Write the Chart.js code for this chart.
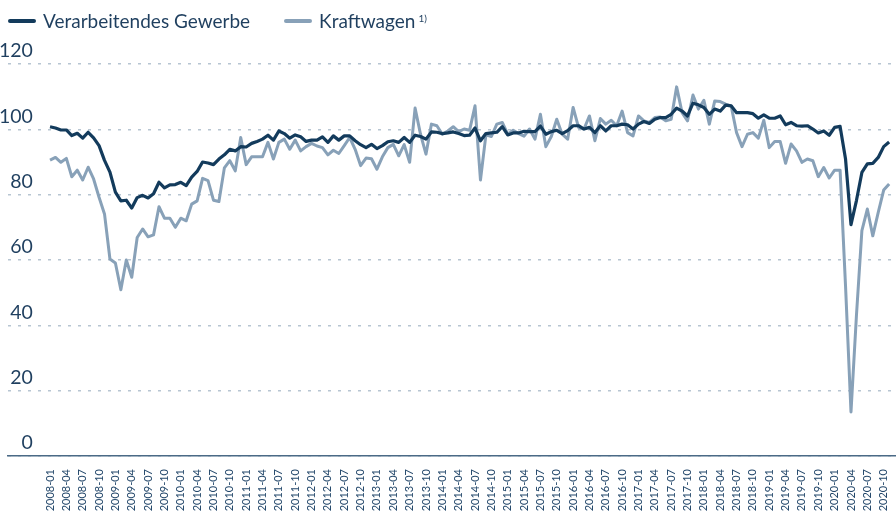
<!DOCTYPE html>
<html lang="de">
<head>
<meta charset="utf-8">
<script src="https://cdn.jsdelivr.net/npm/chart.js@4/dist/chart.umd.min.js"></script>
<style>
    html, body { margin: 0; padding: 0; background: #fff; }
    .wrap { position: relative; width: 896px; height: 512px; font-family: Lato, sans-serif; color: #1f3f5f; }
    canvas { position: absolute; left: 0; top: 0; }
    .legend { position: absolute; left: 8px; top: 8px; display: flex; font-size: 19px; line-height: 26px; }
    .legend-item { display: flex; align-items: center; margin-right: 34px; }
    .legend-line { display: inline-block; width: 28px; height: 4px; border-radius: 2px; margin-right: 7px; }
    .legend sup { font-size: 10px; position: relative; top: -3px; margin-left: 3px; }
</style>
</head>
<body>
<div class="wrap">
    <canvas id="chart" width="896" height="512"></canvas>
    <div class="legend">
        <span class="legend-item"><span class="legend-line" style="background:#133b5c"></span>Verarbeitendes Gewerbe</span>
        <span class="legend-item"><span class="legend-line" style="background:#88a1b8"></span>Kraftwagen<sup>1)</sup></span>
    </div>
</div>
<script>
// monthly, 2008-01 .. 2020-11
const firstYear = 2008;
const months = [];
for (let i = 0; i < 155; i++) {
    const y = firstYear + Math.floor(i / 12);
    const m = (i % 12) + 1;
    months.push(`${y}-${String(m).padStart(2, '0')}`);
}

const gewerbe = [
    100.8, 100.4, 99.8, 99.8, 98.1, 98.8, 97.3, 99.1, 97.4, 95.0,
    90.5, 86.9, 80.8, 78.1, 78.3, 75.9, 79.1, 79.8, 79.0, 80.3,
    83.8, 82.1, 83.0, 83.1, 83.8, 82.8, 85.4, 87.1, 90.0, 89.7,
    89.2, 90.9, 92.2, 93.9, 93.4, 94.7, 94.6, 95.7, 96.3, 97.0,
    98.2, 96.7, 99.5, 98.7, 97.3, 98.3, 97.7, 96.3, 96.7, 96.7,
    97.7, 96.0, 98.0, 96.7, 98.0, 98.0, 96.5, 95.3, 94.4, 95.4,
    94.1, 95.0, 96.2, 96.5, 96.0, 97.5, 96.0, 98.2, 97.8, 97.0,
    99.2, 99.1, 98.7, 98.9, 99.2, 98.7, 98.1, 98.2, 100.4, 96.5,
    98.7, 98.9, 99.1, 100.8, 98.3, 98.9, 98.9, 99.4, 99.3, 99.3,
    101.0, 98.5, 99.3, 99.7, 98.7, 99.6, 101.1, 101.1, 100.1, 100.6,
    99.0, 101.1, 99.5, 101.1, 101.1, 101.6, 101.4, 100.1, 101.6, 102.4,
    101.8, 103.1, 103.6, 103.6, 104.6, 106.5, 105.6, 104.1, 108.0, 107.5,
    106.7, 104.6, 106.2, 105.6, 107.4, 107.2, 105.1, 105.1, 105.1, 104.8,
    103.4, 104.4, 103.4, 103.4, 104.1, 101.4, 102.1, 101.1, 101.0, 101.1,
    100.1, 98.9, 99.5, 98.2, 100.6, 100.9, 90.9, 70.8, 78.2, 86.8,
    89.4, 89.6, 91.4, 94.7, 96.1
];

const kraftwagen = [
    90.6, 91.4, 89.9, 91.1, 85.5, 87.5, 84.5, 88.4, 84.8, 79.2,
    74.1, 60.3, 59.1, 50.9, 60.0, 54.7, 66.9, 69.5, 67.1, 67.7,
    76.3, 72.8, 72.8, 70.0, 72.8, 72.0, 77.1, 78.1, 85.0, 84.3,
    78.3, 77.9, 88.2, 90.4, 87.3, 97.5, 89.2, 91.6, 91.6, 91.6,
    96.0, 90.9, 96.0, 97.0, 93.9, 96.7, 93.4, 94.7, 95.7, 94.9,
    94.4, 92.2, 93.6, 92.6, 95.0, 97.5, 93.9, 88.9, 91.2, 91.0,
    87.8, 91.6, 94.4, 95.4, 91.9, 95.3, 89.9, 106.5, 98.5, 92.4,
    101.6, 101.1, 98.5, 99.5, 100.8, 99.3, 100.1, 99.7, 107.2, 84.5,
    98.3, 97.8, 101.6, 102.1, 98.5, 99.7, 98.7, 97.9, 100.1, 97.0,
    104.6, 94.7, 97.8, 103.1, 98.5, 97.0, 106.7, 100.6, 100.1, 104.1,
    96.5, 103.3, 101.6, 102.8, 101.1, 105.6, 99.0, 98.0, 104.1, 102.6,
    102.1, 103.6, 103.8, 102.6, 103.1, 113.0, 105.1, 102.6, 110.5, 106.2,
    108.9, 101.6, 108.7, 108.5, 107.7, 107.2, 99.0, 94.7, 98.5, 99.0,
    97.3, 102.8, 94.4, 96.3, 96.3, 89.6, 95.5, 93.4, 89.9, 90.9,
    90.4, 85.5, 88.3, 85.1, 87.5, 87.5, 52.0, 13.5, 43.0, 69.0,
    75.6, 67.4, 74.6, 81.4, 83.3
];

const yTicks = [0, 20, 40, 60, 80, 100, 120];
// every third month gets a label
const xTickIdx = months.map((m, i) => i).filter(i => i % 3 === 0 && i <= 153);

const textColor = '#1f3f5f';
const toPoints = arr => arr.map((v, i) => ({x: i, y: v}));

new Chart(document.getElementById('chart'), {
    type: 'line',
    data: {
        datasets: [
            {
                label: 'Verarbeitendes Gewerbe',
                data: toPoints(gewerbe),
                borderColor: '#133b5c',
                borderWidth: 3.2,
                borderJoinStyle: 'round',
                pointRadius: 0,
                tension: 0,
            },
            {
                label: 'Kraftwagen 1)',
                data: toPoints(kraftwagen),
                borderColor: '#88a1b8',
                borderWidth: 3,
                borderJoinStyle: 'round',
                pointRadius: 0,
                tension: 0,
            },
        ],
    },
    options: {
        responsive: false,
        animation: false,
        layout: {padding: {left: 8, right: 0, top: 64, bottom: 0}},
        plugins: {legend: {display: false}, tooltip: {enabled: false}},
        scales: {
            x: {
                type: 'linear',
                min: -7.71,
                max: 155.26,
                grid: {display: false},
                border: {color: '#4b6a86', width: 1.5},
                afterBuildTicks: axis => { axis.ticks = xTickIdx.map(v => ({value: v})); },
                afterFit: axis => {
                    axis.height = 56;
                    axis.paddingLeft = 0;
                    axis.paddingRight = 0;
                },
                ticks: {
                    autoSkip: false,
                    maxRotation: 90,
                    minRotation: 90,
                    padding: 5,
                    color: '#24486b',
                    font: {family: 'Lato', size: 11},
                    callback: v => months[v],
                },
            },
            y: {
                min: 0,
                max: 120,
                afterBuildTicks: axis => { axis.ticks = yTicks.map(v => ({value: v})); },
                grid: {color: '#b7c5d2', lineWidth: 1.5, drawTicks: false},
                border: {display: false, dash: [3, 7]},
                ticks: {
                    mirror: true,
                    crossAlign: 'far',
                    padding: -3,
                    labelOffset: -13,
                    color: textColor,
                    font: {family: 'Lato', size: 19.5},
                },
            },
        },
    },
});
</script>
</body>
</html>
